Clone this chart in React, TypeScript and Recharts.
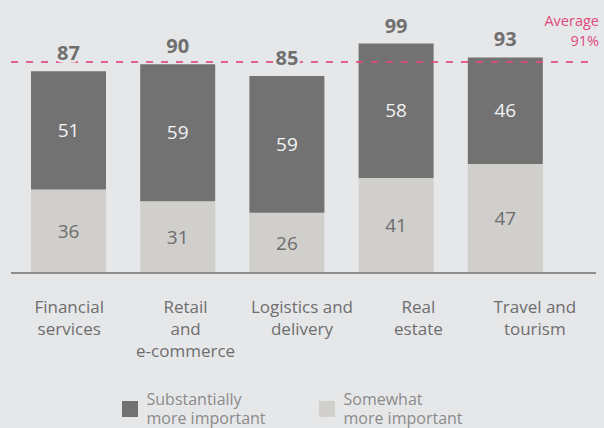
import { Bar, BarChart, LabelList, Legend, ReferenceLine, XAxis, YAxis } from "recharts";

const categoryLines = [
  ["Financial", "services"],
  ["Retail", "and", "e-commerce"],
  ["Logistics and", "delivery"],
  ["Real", "estate"],
  ["Travel and", "tourism"],
];
const categories = categoryLines.map((lines) => lines.join(" "));

const somewhat = [36, 31, 26, 41, 47];
const substantially = [51, 59, 59, 58, 46];
const average = 91;

const legendLines = [
  ["Substantially", "more important"],
  ["Somewhat", "more important"],
];

const data = categories.map((name, i) => ({
  name,
  somewhat: somewhat[i],
  substantially: substantially[i],
  total: somewhat[i] + substantially[i],
}));

const BG = "#e6e7e9";
const DARK = "#727272";
const LIGHT = "#d0cfcb";
const PINK = "#e0497e";
const FONT = "'Open Sans', sans-serif";

function CategoryTick({ x, y, payload }: any) {
  const idx = categories.indexOf(payload.value);
  const lines = idx >= 0 ? categoryLines[idx] : [payload.value];
  return (
    <text x={x} y={y + 40} textAnchor="middle" fill="#6e6e6e" fontSize={17} fontFamily={FONT}>
      {lines.map((line, i) => (
        <tspan key={i} x={x} dy={i === 0 ? 0 : 22}>
          {line}
        </tspan>
      ))}
    </text>
  );
}

function TotalLabel({ x, y, width, value }: any) {
  return (
    <text
      x={x + width / 2}
      y={y - 11}
      textAnchor="middle"
      fill="#6f6f6f"
      fontSize={20}
      fontWeight={700}
      fontFamily={FONT}
      stroke={BG}
      strokeWidth={5}
      paintOrder="stroke"
    >
      {value}
    </text>
  );
}

function AverageLabel({ viewBox }: any) {
  const right = viewBox.x + viewBox.width + 3;
  return (
    <text textAnchor="end" fill={PINK} fontSize={14.5} fontFamily={FONT}>
      <tspan x={right} y={viewBox.y - 36.5}>Average</tspan>
      <tspan x={right} y={viewBox.y - 16}>{average}%</tspan>
    </text>
  );
}

function ChartLegend() {
  const colors = [DARK, LIGHT];
  const lefts = [122, 319];
  return (
    <div style={{ position: "relative", width: 604, height: 40 }}>
      {legendLines.map((lines, i) => (
        <div
          key={i}
          style={{ position: "absolute", left: lefts[i], top: 0, display: "flex", alignItems: "center" }}
        >
          <span style={{ width: 16, height: 16, background: colors[i], marginRight: 8.5, flexShrink: 0 }} />
          <span style={{ fontFamily: FONT, fontSize: 16, lineHeight: "18.5px", color: "#8b8b8b", whiteSpace: "nowrap" }}>
            {lines[0]}
            <br />
            {lines[1]}
          </span>
        </div>
      ))}
    </div>
  );
}

export default function App() {
  return (
    <div style={{ position: "absolute", left: 0, top: 0, width: 604, height: 428, background: BG }}>
      <BarChart width={604} height={428} data={data} margin={{ top: 18, right: 8, left: 11, bottom: 55 }}>
        <XAxis xAxisId="bars" dataKey="name" hide height={0} padding={{ left: 3, right: 36 }} />
        <XAxis
          xAxisId="cats"
          dataKey="name"
          height={100}
          padding={{ left: 0, right: 3 }}
          tickLine={false}
          tickSize={0}
          tickMargin={0}
          interval={0}
          axisLine={{ stroke: "#8d8d8d", strokeWidth: 2 }}
          tick={<CategoryTick />}
        />
        <YAxis hide domain={[0, 110]} />
        <Legend
          layout="horizontal"
          verticalAlign="middle"
          align="center"
          wrapperStyle={{ top: 390, left: 0, width: 604 }}
          content={<ChartLegend />}
        />
        <Bar xAxisId="bars" dataKey="somewhat" stackId="a" fill={LIGHT} barSize={75} isAnimationActive={false}>
          <LabelList dataKey="somewhat" position="center" fill="#6d6d6d" fontSize={19} fontFamily={FONT} />
        </Bar>
        <Bar xAxisId="bars" dataKey="substantially" stackId="a" fill={DARK} barSize={75} isAnimationActive={false}>
          <LabelList dataKey="substantially" position="center" fill="#f4f4f4" fontSize={19} fontFamily={FONT} />
          <LabelList dataKey="total" position="top" content={<TotalLabel />} />
        </Bar>
        <ReferenceLine
          xAxisId="bars"
          y={average}
          stroke={PINK}
          strokeOpacity={0.85}
          strokeWidth={2}
          strokeDasharray="7 8"
          label={<AverageLabel />}
        />
      </BarChart>
    </div>
  );
}
